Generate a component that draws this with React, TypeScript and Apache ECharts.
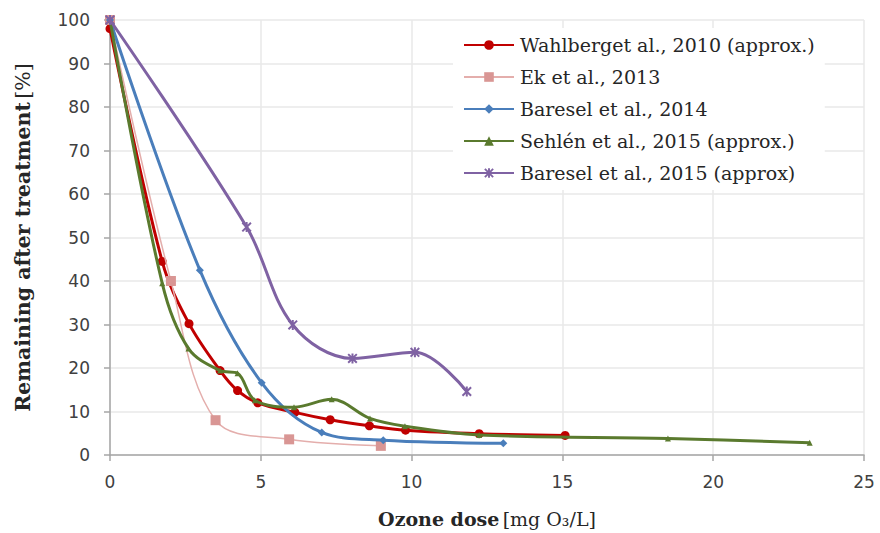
import React, { useEffect, useRef } from "react";
import * as echarts from "echarts";

const xTicks = [0, 5, 10, 15, 20, 25];
const yTicks = [0, 10, 20, 30, 40, 50, 60, 70, 80, 90, 100];

const seriesNames = [
  "Wahlberget al., 2010 (approx.)",
  "Ek et al., 2013",
  "Baresel et al., 2014",
  "Sehlén et al., 2015 (approx.)",
  "Baresel et al., 2015 (approx)",
];

const wahlX = [0, 1.73, 2.62, 3.65, 4.23, 4.9, 6.13, 7.3, 8.6, 9.8, 12.24, 15.09];
const wahlY = [98, 44.5, 30.2, 19.4, 14.8, 12, 9.8, 8.1, 6.7, 5.7, 4.9, 4.5];

const ekX = [0, 2.02, 3.5, 5.94, 8.98];
const ekY = [100, 40, 8, 3.6, 2.1];

const bar14X = [0, 2.98, 5.03, 7.02, 9.06, 13.04];
const bar14Y = [100, 42.5, 16.6, 5.2, 3.4, 2.7];

const sehX = [0, 1.73, 2.6, 3.65, 4.23, 4.8, 6.1, 7.35, 8.62, 9.78, 12.24, 18.5, 23.2];
const sehY = [100, 39.5, 24.5, 19.4, 18.8, 12.6, 11, 12.8, 8.4, 6.6, 4.6, 3.8, 2.8];

const bar15X = [0, 4.53, 6.06, 8.04, 10.11, 11.83];
const bar15Y = [100, 52.4, 29.9, 22.2, 23.6, 14.6];

const colors = ["#c00000", "#d99694", "#4a7ebb", "#5a7a2e", "#7f62a3"];

const pairs = (xs: number[], ys: number[]) => xs.map((x, i) => [x, ys[i]]);

const asterisk =
  "path://M4,0 L6,0 L6,10 L4,10 Z M0,1.4 L1.4,0 L10,8.6 L8.6,10 Z M8.6,0 L10,1.4 L1.4,10 L0,8.6 Z";

const serifFont = "'DejaVu Serif', serif";
const sansFont = "'DejaVu Sans', sans-serif";

export default function App() {
  const ref = useRef<HTMLDivElement>(null);
  useEffect(() => {
    document.body.style.margin = "0";
    const chart = echarts.init(ref.current!, null, { renderer: "svg" });
    const mk = (
      i: number,
      xs: number[],
      ys: number[],
      symbol: string,
      symbolSize: number,
      width: number,
      lineColor?: string
    ) => ({
      name: seriesNames[i],
      type: "line",
      data: pairs(xs, ys),
      smooth: 0.35,
      symbol,
      symbolSize,
      showAllSymbol: true,
      lineStyle: { color: lineColor || colors[i], width },
      itemStyle: { color: colors[i], borderWidth: 0 },
      z: 2 + i,
    });
    chart.setOption({
      animation: false,
      backgroundColor: "#ffffff",
      grid: { left: 110, right: 16, top: 20, bottom: 78, containLabel: false },
      legend: {
        orient: "vertical",
        left: 453,
        top: 28,
        itemWidth: 50,
        itemHeight: 12,
        itemGap: 10,
        backgroundColor: "#ffffff",
        padding: [6, 10, 6, 10],
        textStyle: {
          fontFamily: serifFont,
          fontSize: 19,
          color: "#262626",
          lineHeight: 22,
          padding: [0, 0, 0, 1],
        },
        data: seriesNames,
      },
      xAxis: {
        type: "value",
        min: 0,
        max: 25,
        interval: 5,
        name: "{b|Ozone dose} {n|[mg O₃/L]}",
        nameLocation: "middle",
        nameGap: 54,
        nameTextStyle: {
          rich: {
            b: { fontFamily: serifFont, fontSize: 19, fontWeight: "bold", color: "#262626" },
            n: { fontFamily: serifFont, fontSize: 19, color: "#262626" },
          },
        },
        axisLine: { show: true, lineStyle: { color: "#a6a6a6", width: 1.5 } },
        axisTick: { show: true, inside: false, length: 6, lineStyle: { color: "#a6a6a6", width: 1.5 } },
        axisLabel: {
          margin: 18,
          fontFamily: sansFont,
          fontSize: 17,
          color: "#404040",
          formatter: (v: number) => (xTicks.includes(v) ? String(v) : ""),
        },
        splitLine: { show: true, lineStyle: { color: "#e9e9e9", width: 1.5 } },
      },
      yAxis: {
        type: "value",
        min: 0,
        max: 100,
        interval: 10,
        name: "{b|Remaining after treatment} {n|[%]}",
        nameLocation: "middle",
        nameGap: 77,
        nameRotate: 90,
        nameTextStyle: {
          rich: {
            b: { fontFamily: serifFont, fontSize: 20.5, fontWeight: "bold", color: "#262626" },
            n: { fontFamily: serifFont, fontSize: 20.5, color: "#262626" },
          },
        },
        axisLine: { show: true, lineStyle: { color: "#a6a6a6", width: 1.5 } },
        axisTick: { show: true, inside: false, length: 6, lineStyle: { color: "#a6a6a6", width: 1.5 } },
        axisLabel: {
          margin: 20,
          fontFamily: sansFont,
          fontSize: 17,
          color: "#404040",
          formatter: (v: number) => (yTicks.includes(v) ? String(v) : ""),
        },
        splitLine: { show: true, lineStyle: { color: "#e9e9e9", width: 1.5 } },
      },
      series: [
        mk(0, wahlX, wahlY, "circle", 9, 3),
        mk(1, ekX, ekY, "rect", 10, 1.5, "#e4aeac"),
        mk(2, bar14X, bar14Y, "diamond", 8, 3),
        mk(3, sehX, sehY, "triangle", 6, 3),
        mk(4, bar15X, bar15Y, asterisk, 10, 3),
      ],
    });
    return () => chart.dispose();
  }, []);
  return (
    <div
      ref={ref}
      style={{ position: "absolute", left: 0, top: 0, width: 880, height: 533 }}
    />
  );
}
